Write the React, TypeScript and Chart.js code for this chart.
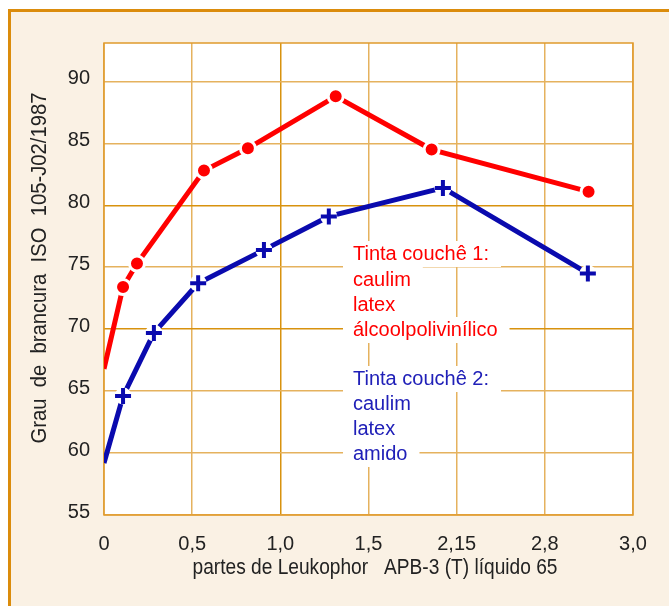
import React, { useEffect, useRef } from "react";
import { Chart, registerables } from "chart.js";

Chart.register(...registerables);

// ---- data ----
const xTickLabels = ["0", "0,5", "1,0", "1,5", "2,15", "2,8", "3,0"];
const redX = [0, 0.108, 0.187, 0.567, 0.816, 1.314, 1.858, 2.748];
const redY = [66.8, 73.4, 75.3, 82.8, 84.6, 88.8, 84.5, 81.1];
const blueX = [0, 0.108, 0.283, 0.534, 0.907, 1.275, 1.922, 2.744];
const blueY = [59.2, 64.6, 69.7, 73.7, 76.4, 79.1, 81.4, 74.5];
const redNote = ["Tinta couchê 1:", "caulim", "latex", "álcoolpolivinílico"];
const blueNote = ["Tinta couchê 2:", "caulim", "latex", "amido"];
const yTitle = "Grau  de  brancura  ISO  105-J02/1987";
const xTitle = "partes de Leukophor   APB-3 (T) líquido 65";

const RED = "#ff0000";
const BLUE = "#0a0aae";
const BLUE_TEXT = "#2020b8";
const GRID = "#e5b25e";
const GRID_DARK = "#d8920e";
const ORANGE = "#db8c0c";
const CREAM = "#faf1e4";
const FONT = "'Liberation Sans Narrow', 'Liberation Sans', Arial, sans-serif";

const pts = (xs: number[], ys: number[]) => xs.map((x, i) => ({ x, y: ys[i] }));
const markerRadii = (xs: number[], r: number) => xs.map((_, i) => (i === 0 ? 0 : r));

const decorPlugin = {
  id: "decor",
  beforeDraw(chart: any) {
    const { ctx, chartArea: a } = chart;
    ctx.save();
    ctx.fillStyle = CREAM;
    ctx.fillRect(8, 9, chart.width - 8, chart.height - 9);
    ctx.strokeStyle = ORANGE;
    ctx.lineWidth = 3;
    ctx.beginPath();
    ctx.moveTo(9.5, chart.height);
    ctx.lineTo(9.5, 10.5);
    ctx.lineTo(chart.width, 10.5);
    ctx.stroke();
    ctx.fillStyle = "#ffffff";
    ctx.fillRect(a.left, a.top, a.right - a.left, a.bottom - a.top);
    ctx.restore();
  },
  beforeDatasetsDraw(chart: any) {
    const { ctx, chartArea: a } = chart;
    ctx.save();
    // plot frame
    ctx.strokeStyle = "#e09a2c";
    ctx.lineWidth = 1.5;
    ctx.strokeRect(a.left, a.top, a.right - a.left, a.bottom - a.top);
    // annotations
    ctx.font = "20px 'Liberation Sans', Arial, sans-serif";
    ctx.textBaseline = "middle";
    const drawNote = (lines: string[], ys: number[], color: string) => {
      lines.forEach((t, i) => {
        const w = ctx.measureText(t).width;
        ctx.fillStyle = "#ffffff";
        ctx.fillRect(343, ys[i] - 13, w + 22, 26);
      });
      ctx.fillStyle = color;
      lines.forEach((t, i) => ctx.fillText(t, 353, ys[i]));
    };
    drawNote(redNote, [254, 280, 305, 330], RED);
    drawNote(blueNote, [379, 404, 429, 454], BLUE_TEXT);
    ctx.restore();
  },
  afterDraw(chart: any) {
    const { ctx } = chart;
    ctx.save();
    ctx.fillStyle = "#222222";
    ctx.font = "22px " + FONT;
    ctx.textAlign = "center";
    ctx.textBaseline = "middle";
    ctx.save();
    ctx.translate(375, 568);
    ctx.scale(0.87, 1);
    ctx.fillText(xTitle, 0, 0);
    ctx.restore();
    ctx.translate(40, 268);
    ctx.rotate(-Math.PI / 2);
    ctx.scale(0.92, 1);
    ctx.fillText(yTitle, 0, 0);
    ctx.restore();
  },
};

export default function App() {
  const ref = useRef<HTMLCanvasElement | null>(null);
  useEffect(() => {
    if (!ref.current) return;
    const chart = new Chart(ref.current, {
      type: "scatter",
      data: {
        datasets: [
          {
            label: "Tinta couchê 1",
            data: pts(redX, redY),
            showLine: true,
            borderColor: RED,
            borderWidth: 5,
            pointRadius: markerRadii(redX, 7.5),
            pointBackgroundColor: RED,
            pointBorderColor: "#ffffff",
            pointBorderWidth: 3,
            order: 0,
          },
          {
            label: "Tinta couchê 2 (linha)",
            data: pts(blueX, blueY),
            showLine: true,
            borderColor: BLUE,
            borderWidth: 5,
            pointRadius: markerRadii(blueX, 8.5),
            pointBackgroundColor: "#ffffff",
            pointBorderWidth: 0,
            order: 2,
          },
          {
            label: "Tinta couchê 2",
            data: pts(blueX, blueY),
            showLine: false,
            pointStyle: "cross",
            pointRadius: markerRadii(blueX, 8),
            pointBorderColor: BLUE,
            pointBorderWidth: 4,
            order: 1,
          },
        ],
      },
      options: {
        animation: false,
        responsive: false,
        events: [],
        layout: { padding: { top: 43, right: 36, left: 0, bottom: 0 } },
        plugins: { legend: { display: false }, tooltip: { enabled: false } },
        scales: {
          x: {
            type: "linear",
            min: 0,
            max: 3,
            afterFit: (s: any) => {
              s.height = 91;
            },
            ticks: {
              stepSize: 0.5,
              padding: 17,
              color: "#222222",
              font: { size: 20, family: FONT },
              maxRotation: 0,
              callback: (_v: any, i: number) => xTickLabels[i],
            },
            grid: {
              color: (c: any) => (c.tick && c.tick.value === 1 ? GRID_DARK : GRID),
              lineWidth: 1.5,
              drawTicks: false,
            },
            border: { display: false },
          },
          y: {
            type: "linear",
            min: 55,
            max: 93.1,
            afterFit: (s: any) => {
              s.width = 104;
            },
            ticks: {
              stepSize: 5,
              includeBounds: false,
              padding: 14,
              labelOffset: -3,
              color: "#222222",
              font: { size: 20, family: FONT },
            },
            grid: {
              color: (c: any) => (c.tick && (c.tick.value === 80 || c.tick.value === 70) ? GRID_DARK : GRID),
              lineWidth: 1.5,
              drawTicks: false,
            },
            border: { display: false },
          },
        },
      },
      plugins: [decorPlugin],
    } as any);
    return () => chart.destroy();
  }, []);
  return (
    <canvas
      ref={ref}
      width={669}
      height={606}
      style={{ position: "fixed", left: 0, top: 0, width: 669, height: 606 }}
    />
  );
}
